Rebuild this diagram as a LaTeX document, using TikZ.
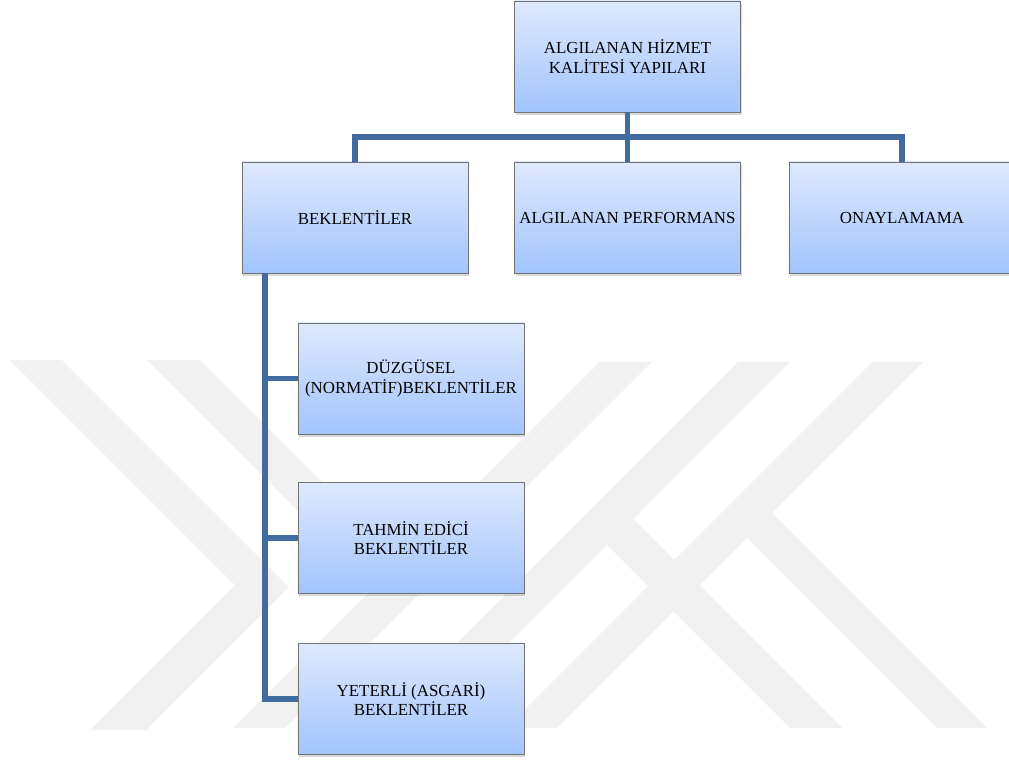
\documentclass[tikz,border=0pt]{standalone}
\usepackage{fontspec}
\setmainfont{Liberation Serif}
\usetikzlibrary{positioning,shadows}
\definecolor{wmgray}{RGB}{241,241,241}
\definecolor{linkblue}{RGB}{66,108,160}
\definecolor{boxtop}{RGB}{223,233,253}
\definecolor{boxbot}{RGB}{162,196,252}

\begin{document}
\begin{tikzpicture}[x=0.025cm,y=-0.025cm,
  box/.style={draw=gray!90!black,line width=0.5pt,top color=boxtop,bottom color=boxbot,
    minimum width=5.65cm,minimum height=2.78cm,align=center,inner sep=1pt,
    font=\fontsize{12}{13.9}\selectfont,
    drop shadow={opacity=0.3,shadow xshift=1pt,shadow yshift=-2pt}},
  link/.style={draw=linkblue,line width=3.9pt}]
\useasboundingbox (0,0) rectangle (1009,762);
\fill[wmgray] (10,360) -- (62,360) -- (289,587) -- (146,730) -- (90,730) -- (235,585) -- cycle;
\fill[wmgray] (147,360) -- (200,360) -- (427,587) -- (375,588) -- cycle;
\fill[wmgray] (600,362) -- (652,362) -- (285,728) -- (233,728) -- cycle;
\fill[wmgray] (738,362) -- (790,362) -- (424,728) -- (372,728) -- cycle;
\fill[wmgray] (872,362) -- (923,362) -- (557,728) -- (506,728) -- cycle;
\fill[wmgray] (607,545) -- (633,519) -- (842,728) -- (790,728) -- cycle;
\fill[wmgray] (747,538) -- (772,513) -- (987,728) -- (937,728) -- cycle;

\node[box] (top) at (627.5,56.5) {ALGILANAN HİZMET\\KALİTESİ YAPILARI};
\node[box] (bek) at (355,217.5) {BEKLENTİLER};
\node[box] (perf) at (627.5,217.5) {ALGILANAN PERFORMANS};
\node[box] (onay) at (902,217.5) {ONAYLAMAMA};
\foreach \n/\y/\t in {norm/378.5/{DÜZGÜSEL\\(NORMATİF)BEKLENTİLER},tah/538/{TAHMİN EDİCİ\\BEKLENTİLER},yet/699/{YETERLİ (ASGARİ)\\BEKLENTİLER}}
  \node[box] (\n) at (411,\y) {\t};

\coordinate (hub) at (627.5,137);
\coordinate (spine) at (265,0);
\draw[link] (top) -- (perf);
\draw[link] (bek.north) |- (hub) -| (onay.north);
\draw[link] (bek.south -| spine) |- (yet.west);
\foreach \n in {norm,tah}
  \draw[link] (spine |- \n.west) -- (\n.west);
\end{tikzpicture}
\end{document}
